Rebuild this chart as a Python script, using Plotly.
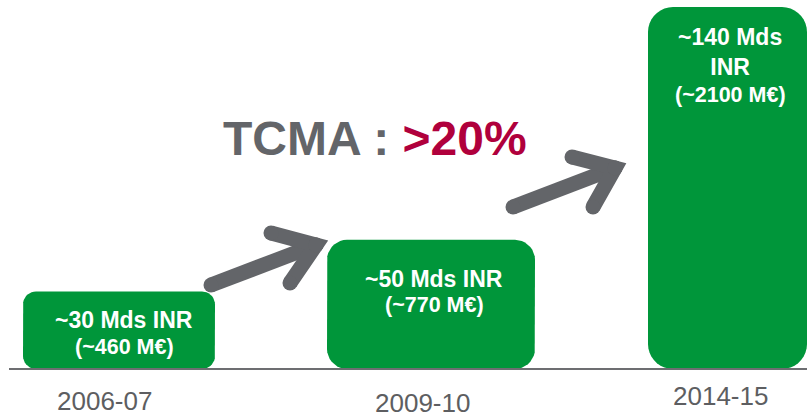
import numpy as np
import plotly.graph_objects as go

# ---------------- data ----------------
categories = ["2006-07", "2009-10", "2014-15"]
values_inr = [30, 50, 140]            # Mds INR
values_eur = [460, 770, 2100]         # M€
labels_inr = ["~30 Mds INR", "~50 Mds INR", "~140 Mds<br>INR"]
labels_eur = ["(~460 M€)", "(~770 M€)", "(~2100 M€)"]
growth_prefix = "TCMA : "
growth_value = ">20%"

# ---------------- layout / style ----------------
W, H = 807, 416
BASE_PX = 369.0            # pixel row of the zero line
K = 2.585                  # pixels per value unit
GREEN = "#00963a"
GREY_ARROW = "#636569"
GREY_TEXT = "#5d5e61"
RED = "#b0003c"
FONT = "Liberation Sans, Arial, sans-serif"

BAR_CX = [119.0, 431.0, 727.5]
BAR_W = [192.0, 208.0, 159.0]
BAR_R = [13.0, 20.0, 25.0]
LBL_X = [124.0, 434.0, 730.0]
LBL1_OFF = [29.0, 39.0, 45.0]      # px below bar top (centre of first label block)
LBL2_OFF = [56.0, 65.0, 88.0]
CAT_X = [104.0, 422.0, 720.0]
CAT_Y = [401.0, 403.0, 396.0]
ARROWS = [  # (tail, tip, wing_up, wing_down) in px
    ((211, 285), (316, 245), (271, 233), (290, 283)),
    ((513, 207), (615, 168), (572, 157), (593, 207)),
]


def to_y(py):
    return (BASE_PX - py) / K


def rounded_bar(cx, w, v, r, n=10):
    x0, x1 = cx - w / 2, cx + w / 2
    top = BASE_PX - v * K
    bot = BASE_PX
    pts = []
    corners = [
        (x1 - r, top + r, -np.pi / 2, 0),        # top-right
        (x1 - r, bot - r, 0, np.pi / 2),         # bottom-right
        (x0 + r, bot - r, np.pi / 2, np.pi),     # bottom-left
        (x0 + r, top + r, np.pi, 1.5 * np.pi),   # top-left
    ]
    for ccx, ccy, a0, a1 in corners:
        for a in np.linspace(a0, a1, n):
            pts.append((ccx + r * np.cos(a), ccy + r * np.sin(a)))
    pts.append(pts[0])
    xs = [p[0] for p in pts]
    ys = [to_y(p[1]) for p in pts]
    return xs, ys


fig = go.Figure()

# bars
for i, cat in enumerate(categories):
    xs, ys = rounded_bar(BAR_CX[i], BAR_W[i], values_inr[i], BAR_R[i])
    fig.add_trace(go.Scatter(
        x=xs, y=ys, fill="toself", fillcolor=GREEN, mode="lines",
        line=dict(width=0, color=GREEN), name=cat,
        hoverinfo="text",
        text=f"{cat}: {labels_inr[i].replace('<br>', ' ')} {labels_eur[i]}",
        showlegend=False,
    ))

# arrows
for tail, tip, wu, wd in ARROWS:
    px = [tail[0], tip[0], None, wu[0], tip[0], wd[0]]
    py = [tail[1], tip[1], None, wu[1], tip[1], wd[1]]
    fig.add_trace(go.Scatter(
        x=px, y=[None if p is None else to_y(p) for p in py],
        mode="lines+markers",
        line=dict(color=GREY_ARROW, width=15),
        marker=dict(color=GREY_ARROW, size=15, line=dict(width=0)),
        hoverinfo="skip", showlegend=False,
    ))

# baseline
fig.add_shape(type="line", x0=9, x1=W, y0=0, y1=0, xref="x", yref="y",
              line=dict(color="#6d6e71", width=2))

# bar labels
for i in range(len(categories)):
    top = BASE_PX - values_inr[i] * K
    fig.add_annotation(x=LBL_X[i], y=to_y(top + LBL1_OFF[i]), xref="x", yref="y",
                       text=f"<b>{labels_inr[i]}</b>", showarrow=False,
                       font=dict(family=FONT, size=23, color="white"),
                       xanchor="center", yanchor="middle")
    fig.add_annotation(x=LBL_X[i], y=to_y(top + LBL2_OFF[i]), xref="x", yref="y",
                       text=f"<b>{labels_eur[i]}</b>", showarrow=False,
                       font=dict(family=FONT, size=21.5, color="white"),
                       xanchor="center", yanchor="middle")

# category labels
for i, cat in enumerate(categories):
    fig.add_annotation(x=CAT_X[i], y=to_y(CAT_Y[i]), xref="x", yref="y",
                       text=cat, showarrow=False,
                       font=dict(family=FONT, size=26, color=GREY_TEXT),
                       xanchor="center", yanchor="middle")

# growth text
fig.add_annotation(x=374.5, y=to_y(138), xref="x", yref="y",
                   text=f"<b>{growth_prefix}<span style='color:{RED}'>{growth_value}</span></b>",
                   showarrow=False,
                   font=dict(family=FONT, size=48, color=GREY_ARROW),
                   xanchor="center", yanchor="middle")

fig.update_layout(
    width=W, height=H,
    margin=dict(l=0, r=0, t=0, b=0),
    paper_bgcolor="white", plot_bgcolor="white",
    xaxis=dict(range=[0, W], visible=False, fixedrange=True),
    yaxis=dict(range=[to_y(H), to_y(0)], visible=False, fixedrange=True),
    showlegend=False,
)

fig.write_html(
    "out.html",
    config={"displayModeBar": False},
    post_script="document.body.style.margin='0';document.body.style.overflow='hidden';",
)
